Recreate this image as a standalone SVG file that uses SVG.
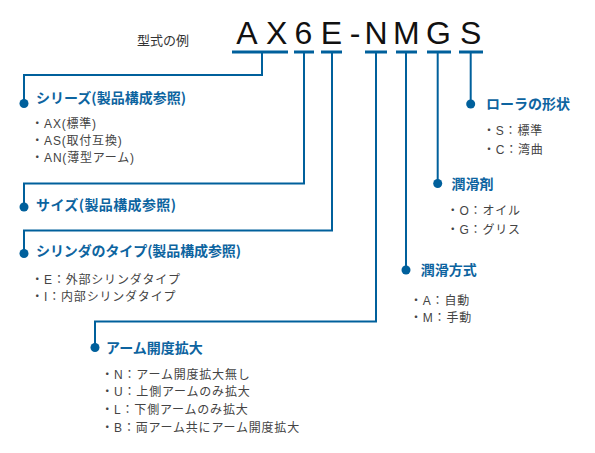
<svg xmlns="http://www.w3.org/2000/svg" width="595" height="453" viewBox="0 0 595 453">
<style>
.code{font-family:"Liberation Sans",Arial,sans-serif;font-size:32px;fill:#111;text-anchor:middle}
.lbl{font-family:"Noto Sans CJK JP","Noto Sans",sans-serif;font-size:13px;fill:#333}
.ttl{font-family:"Noto Sans CJK JP","Noto Sans",sans-serif;font-size:14px;font-weight:bold;fill:#0d64a0}
.itm{font-family:"Liberation Sans","Noto Sans CJK JP",sans-serif;font-size:12px;letter-spacing:0.8px;fill:#444}
.bar{fill:#00609c}
.ln{fill:none;stroke:#00609c;stroke-width:2}
.dot{fill:#00609c}
</style>
<rect width="595" height="453" fill="#fff"/>
<g id="header">
<text class="lbl" x="137" y="45">型式の例</text>
<text class="code" x="247" y="44">A</text>
<text class="code" x="276.7" y="44">X</text>
<text class="code" x="303.5" y="44">6</text>
<text class="code" x="331.5" y="44">E</text>
<text class="code" x="355" y="44">-</text>
<text class="code" x="376" y="44">N</text>
<text class="code" x="406.3" y="44">M</text>
<text class="code" x="438.5" y="44">G</text>
<text class="code" x="470.7" y="44">S</text>
<rect class="bar" x="232" y="50.5" width="56" height="3"/>
<rect class="bar" x="294" y="50.5" width="20" height="3"/>
<rect class="bar" x="321" y="50.5" width="21" height="3"/>
<rect class="bar" x="365" y="50.5" width="22" height="3"/>
<rect class="bar" x="396" y="50.5" width="21" height="3"/>
<rect class="bar" x="427" y="50.5" width="24" height="3"/>
<rect class="bar" x="459" y="50.5" width="24" height="3"/>
</g>
<g id="connectors">
<polyline class="ln" points="262,53 262,75 24,75 24,103.5"/>
<polyline class="ln" points="304,53 304,183.5 24,183.5 24,207"/>
<polyline class="ln" points="332,53 332,230.5 24,230.5 24,253.5"/>
<polyline class="ln" points="376,53 376,321.5 95,321.5 95,347.5"/>
<polyline class="ln" points="406,53 406,270"/>
<polyline class="ln" points="437.7,53 437.7,183.5"/>
<polyline class="ln" points="470.7,53 470.7,104"/>
</g>
<g id="series">
<circle class="dot" cx="24" cy="103.5" r="4.5"/>
<text class="ttl" x="36" y="102.5" textLength="150" lengthAdjust="spacing">シリーズ(製品構成参照)</text>
<text class="itm" x="31.3" y="128">・AX(標準)</text>
<text class="itm" x="31.3" y="145">・AS(取付互換)</text>
<text class="itm" x="31.3" y="162">・AN(薄型アーム)</text>
</g>
<g id="size">
<circle class="dot" cx="24" cy="207" r="4.5"/>
<text class="ttl" x="36" y="210" textLength="140" lengthAdjust="spacing">サイズ(製品構成参照)</text>
</g>
<g id="cylinder">
<circle class="dot" cx="24" cy="253.5" r="4.5"/>
<text class="ttl" x="36" y="256" textLength="205" lengthAdjust="spacing">シリンダのタイプ(製品構成参照)</text>
<text class="itm" x="31.3" y="284">・E：外部シリンダタイプ</text>
<text class="itm" x="31.3" y="301">・I：内部シリンダタイプ</text>
</g>
<g id="arm">
<circle class="dot" cx="95" cy="347.5" r="4.5"/>
<text class="ttl" x="106" y="352.5">アーム開度拡大</text>
<text class="itm" x="101.3" y="378.5">・N：アーム開度拡大無し</text>
<text class="itm" x="101.3" y="396">・U：上側アームのみ拡大</text>
<text class="itm" x="101.3" y="414">・L：下側アームのみ拡大</text>
<text class="itm" x="101.3" y="432">・B：両アーム共にアーム開度拡大</text>
</g>
<g id="lubrication-method">
<circle class="dot" cx="406" cy="270" r="4.5"/>
<text class="ttl" x="420.7" y="275">潤滑方式</text>
<text class="itm" x="410" y="304.5">・A：自動</text>
<text class="itm" x="410" y="322">・M：手動</text>
</g>
<g id="lubricant">
<circle class="dot" cx="437.7" cy="183.5" r="4.5"/>
<text class="ttl" x="451.5" y="188.5">潤滑剤</text>
<text class="itm" x="446.7" y="215">・O：オイル</text>
<text class="itm" x="446.7" y="233.5">・G：グリス</text>
</g>
<g id="roller">
<circle class="dot" cx="470.7" cy="104" r="4.5"/>
<text class="ttl" x="486" y="109">ローラの形状</text>
<text class="itm" x="483" y="135">・S：標準</text>
<text class="itm" x="483" y="153.5">・C：湾曲</text>
</g>
</svg>
